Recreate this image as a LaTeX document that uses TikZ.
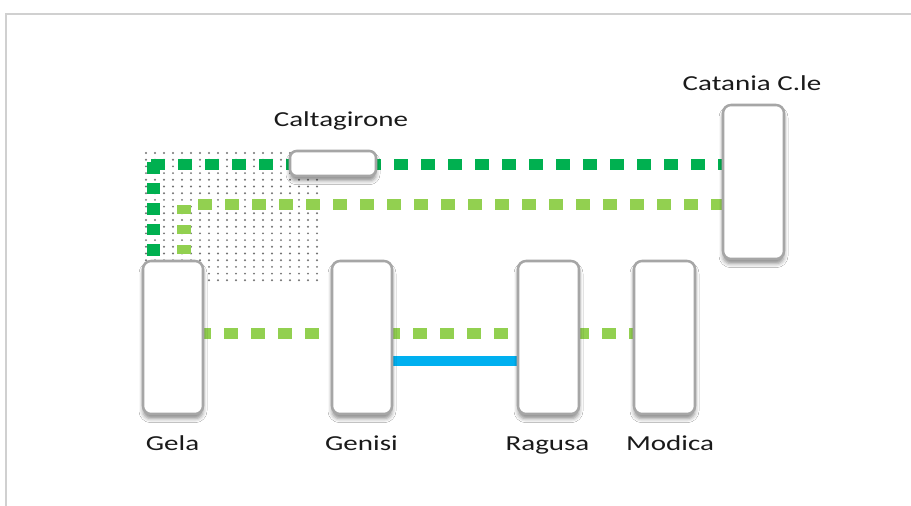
\documentclass[tikz,border=0pt]{standalone}
\usepackage{fontspec}
\setmainfont{Carlito}
\usetikzlibrary{shadows.blur}
\definecolor{dkgreen}{HTML}{00B050}
\definecolor{ltgreen}{HTML}{92D050}
\definecolor{skyblue}{HTML}{00B0F0}
\definecolor{boxgray}{HTML}{A6A6A6}
\definecolor{framegray}{HTML}{D0D0D0}
\definecolor{txtcol}{HTML}{1A1A1A}
\pgfdeclarelayer{bg}
\pgfsetlayers{bg,main}
\newcommand{\stretchtxt}[1]{\scalebox{1.36}[1]{#1}}
\begin{document}
\begin{tikzpicture}[x=0.75pt,y=-0.75pt,
  stn/.style={draw=boxgray, line width=1.9pt, fill=white, rounded corners=6pt,
    inner sep=0pt,
    blur shadow={shadow xshift=0pt, shadow yshift=-3.5pt, shadow blur radius=3pt, shadow opacity=45}},
  lbl/.style={anchor=base, text=txtcol, font=\fontsize{16}{19}\selectfont, inner sep=0pt},
  dkh/.style={draw=dkgreen, line width=8.25pt, dash pattern=on 10.5pt off 9.75pt},
  dkv/.style={draw=dkgreen, line width=9.75pt, dash pattern=on 8.625pt off 6.75pt},
  lgh/.style={draw=ltgreen, line width=8.25pt, dash pattern=on 10.5pt off 9.75pt},
  lgv/.style={draw=ltgreen, line width=10.5pt, dash pattern=on 7.125pt off 7.875pt},
  bline/.style={draw=skyblue, line width=7.5pt},
  dotc/.style={fill=black!55}
]
\useasboundingbox (0,0) rectangle (911,506);

% stations
\node[stn, minimum width=45pt, minimum height=114.75pt] (gela) at (173,337.5) {};
\node[stn, minimum width=45pt, minimum height=114.75pt] (genisi) at (362,337.5) {};
\node[stn, minimum width=45.75pt, minimum height=114.75pt] (ragusa) at (548.5,337.5) {};
\node[stn, minimum width=45.75pt, minimum height=114.75pt] (modica) at (664.5,337.5) {};
\node[stn, minimum width=45.75pt, minimum height=115.5pt] (catania) at (753.5,182) {};
\node[stn, minimum width=64.5pt, minimum height=18.75pt, rounded corners=5pt] (caltagirone) at (333,163.5) {};

% labels
\node[lbl] (lcalt) at (341,127) {\stretchtxt{Caltagirone}};
\node[lbl] (lcat) at (752,91) {\stretchtxt{Catania C.le}};
\node[lbl] (lgela) at (172.5,450) {\stretchtxt{Gela}};
\node[lbl] (lgenisi) at (361.5,450) {\stretchtxt{Genisi}};
\node[lbl] (lragusa) at (547.5,450) {\stretchtxt{Ragusa}};
\node[lbl] (lmodica) at (670,450) {\stretchtxt{Modica}};

\coordinate (dgh) at (151,164.5);
\coordinate (dgv) at (153.5,162.5);
\coordinate (lgvc) at (184,205);
\coordinate (lghc) at (198,205);
\coordinate (midc) at (197,333.5);
\coordinate (blc) at (362,361);

\begin{pgfonlayer}{bg}
  \fill[white] (0,0) rectangle (911,506);
  \draw[framegray, line width=1.5pt] (6,506) -- (6,14) -- (911,14);
  % dotted area
  \foreach \i in {0,...,19}
    \foreach \j in {0,...,19}
      \fill[dotc] (146+\i*9, 153+\j*6.7) circle (0.8pt);
  % connectors
  \draw[dkh] (dgh) -- (catania.west |- dgh);
  \draw[dkv] (dgv) -- (dgv |- gela.north);
  \draw[lgh] (lghc) -- (catania.west |- lghc);
  \draw[lgv] (lgvc) -- (lgvc |- gela.north);
  \draw[lgh] (midc) -- (modica.west |- midc);
  \draw[bline] (genisi.east |- blc) -- (ragusa.west |- blc);
\end{pgfonlayer}
\end{tikzpicture}
\end{document}
